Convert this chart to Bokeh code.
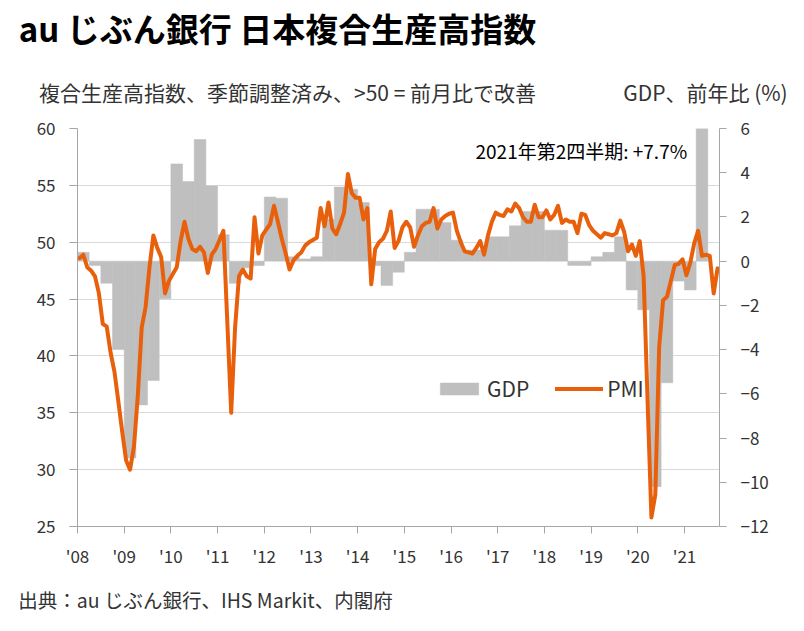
from bokeh.plotting import figure
from bokeh.models import Range1d, LinearAxis, FixedTicker, Label, Legend, LegendItem
from bokeh.embed import file_html
from bokeh.resources import INLINE

# ---- data ----
years = list(range(2008, 2022))
year_labels = ["'08", "'09", "'10", "'11", "'12", "'13", "'14", "'15", "'16", "'17", "'18", "'19", "'20", "'21"]
pmi_ticks = [25, 30, 35, 40, 45, 50, 55, 60]
gdp_ticks = [-12, -10, -8, -6, -4, -2, 0, 2, 4, 6]

pmi_2008 = [48.6, 48.9, 47.8, 47.5, 47.0, 45.5, 42.8, 42.6, 40.3, 38.6, 36.0, 33.3]
pmi_2009 = [30.8, 30.0, 32.0, 36.5, 42.5, 44.3, 47.8, 50.6, 49.5, 48.7, 45.5, 46.6]
pmi_2010 = [47.2, 47.8, 50.1, 51.8, 50.3, 49.4, 49.2, 49.6, 49.1, 47.3, 48.9, 49.4]
pmi_2011 = [50.2, 51.0, 43.0, 35.0, 42.5, 47.0, 47.6, 47.0, 46.8, 52.2, 49.0, 50.6]
pmi_2012 = [51.1, 51.6, 53.2, 51.8, 50.3, 49.0, 47.6, 48.4, 48.8, 49.1, 49.7, 50.0]
pmi_2013 = [50.2, 50.4, 53.0, 51.4, 53.5, 51.2, 50.7, 51.6, 52.6, 56.0, 54.3, 53.9]
pmi_2014 = [53.9, 52.0, 53.0, 46.3, 49.4, 50.0, 50.3, 51.0, 52.7, 49.5, 50.1, 51.3]
pmi_2015 = [51.8, 51.3, 49.6, 50.6, 51.4, 51.7, 51.8, 53.0, 51.2, 52.0, 52.3, 52.5]
pmi_2016 = [52.6, 51.0, 50.0, 49.2, 49.1, 49.0, 49.5, 50.1, 48.9, 50.6, 51.8, 52.6]
pmi_2017 = [52.4, 52.3, 52.9, 52.7, 53.4, 53.0, 52.2, 51.8, 51.8, 53.3, 52.2, 52.2]
pmi_2018 = [52.8, 52.0, 52.4, 53.2, 51.7, 52.0, 51.8, 51.8, 50.8, 52.5, 52.4, 51.5]
pmi_2019 = [51.0, 50.7, 50.4, 50.8, 50.7, 50.6, 50.8, 51.9, 50.9, 49.2, 49.8, 48.8]
pmi_2020 = [50.1, 47.0, 36.2, 25.8, 27.8, 40.8, 44.9, 45.2, 46.6, 48.0, 48.1, 48.5]
pmi_2021 = [47.1, 48.2, 49.9, 51.0, 48.8, 48.9, 48.8, 45.5, 47.7]

gdp = [
    0.4, -0.2, -1.0, -4.0,      # 2008
    -8.9, -6.5, -5.4, -1.7,     # 2009
    4.4, 3.6, 5.5, 3.4,         # 2010
    1.2, -1.0, -0.3, -0.2,      # 2011
    2.9, 2.85, 0.2, 0.1,        # 2012
    0.2, 1.9, 3.35, 3.25,       # 2013
    2.65, -0.2, -1.1, -0.5,     # 2014
    0.4, 2.35, 2.35, 1.75,      # 2015
    0.95, 0.5, 0.5, 1.1,        # 2016
    1.1, 1.6, 2.25, 2.25,       # 2017
    1.4, 1.4, -0.2, -0.2,       # 2018
    0.2, 0.4, 1.1, -1.3,        # 2019
    -2.2, -10.2, -5.5, -0.9,    # 2020
    -1.3, 7.7,                  # 2021
]

pmi = (pmi_2008 + pmi_2009 + pmi_2010 + pmi_2011 + pmi_2012 + pmi_2013 + pmi_2014
       + pmi_2015 + pmi_2016 + pmi_2017 + pmi_2018 + pmi_2019 + pmi_2020 + pmi_2021)
month_t = [2008 + (i + 0.5) / 12 for i in range(len(pmi))]
quarter_t = [2008 + (i + 0.5) / 4 for i in range(len(gdp))]

title_text = "au じぶん銀行 日本複合生産高指数"
subtitle_left = "複合生産高指数、季節調整済み、>50 = 前月比で改善"
subtitle_right = "GDP、前年比 (%)"
note_text = "2021年第2四半期: +7.7%"
source_text = "出典：au じぶん銀行、IHS Markit、内閣府"

FONT = "Noto Sans CJK JP"
GRAY = "#bfbfbf"
ORANGE = "#e9600c"
AX = "#a6a6a6"
TXT = "#333333"

X0, X1 = 2008, 2021.75
FRAME_W, FRAME_H, LEFT = 642, 398, 77


def px_to_x(px):
    # horizontal pixel position of a text centre -> x value on the time axis
    return round(X0 + (px - LEFT) / FRAME_W * (X1 - X0), 3)


p = figure(frame_width=FRAME_W, frame_height=FRAME_H, x_range=Range1d(X0, X1), y_range=Range1d(25, 60),
           output_backend="svg", toolbar_location=None,
           min_border_left=LEFT, min_border_right=77, min_border_top=0, min_border_bottom=0)
p.extra_y_ranges = {"gdp": Range1d(-12, 6)}
p.outline_line_color = None

bars = p.vbar(x=quarter_t, top=gdp, bottom=0, width=0.25, y_range_name="gdp",
              fill_color=GRAY, line_color=GRAY, line_width=0.5)
line = p.line(month_t, pmi, line_color=ORANGE, line_width=4, line_join="round", line_cap="round")

p.xgrid.visible = False
p.ygrid.ticker = FixedTicker(ticks=pmi_ticks)
p.ygrid.grid_line_color = "#d9d9d9"

p.xaxis.ticker = FixedTicker(ticks=years)
p.xaxis.major_label_overrides = {y: l for y, l in zip(years, year_labels)}
p.yaxis.ticker = FixedTicker(ticks=pmi_ticks)

right = LinearAxis(y_range_name="gdp", ticker=FixedTicker(ticks=gdp_ticks))
p.add_layout(right, "right")

for ax in [p.xaxis[0], p.yaxis[0], right]:
    ax.axis_line_color = AX
    ax.major_tick_line_color = AX
    ax.minor_tick_line_color = None
    ax.major_tick_in = 0
    ax.major_tick_out = 8
    ax.major_label_text_font = FONT
    ax.major_label_text_font_size = "17px"
    ax.major_label_text_color = TXT
p.yaxis[0].major_label_standoff = 14
right.major_tick_out = 7
right.major_label_standoff = 14
p.xaxis[0].major_tick_out = 7
p.xaxis[0].major_label_standoff = 9


def text_axis(texts_at, size, standoff, place, bold=False, color=TXT):
    ticks = [px_to_x(c) for c, _ in texts_at]
    ax = LinearAxis(ticker=FixedTicker(ticks=ticks),
                    major_label_overrides={t: s for t, (_, s) in zip(ticks, texts_at)})
    ax.axis_line_color = None
    ax.major_tick_line_color = None
    ax.minor_tick_line_color = None
    ax.major_tick_in = 0
    ax.major_tick_out = 0
    ax.major_label_standoff = standoff
    ax.major_label_text_font = FONT
    ax.major_label_text_font_size = size
    ax.major_label_text_color = color
    ax.major_label_text_font_style = "bold" if bold else "normal"
    p.add_layout(ax, place)


# header rows (first added sits nearest the plot)
text_axis([(287, subtitle_left), (705, subtitle_right)], "21px", 22, "above")
text_axis([(277, title_text)], "33px", 22, "above", bold=True, color="#000000")
# source line under the x axis
text_axis([(205, source_text)], "19.5px", 14, "below")

legend = Legend(items=[LegendItem(label="GDP", renderers=[bars]),
                       LegendItem(label="PMI", renderers=[line])],
                orientation="horizontal", location=(358, 123),
                glyph_width=48, glyph_height=15, label_standoff=4, spacing=26,
                padding=0, margin=0, border_line_color=None, background_fill_alpha=0,
                label_text_font=FONT, label_text_font_size="21px", label_text_color=TXT)
p.add_layout(legend)

p.add_layout(Label(x=398, y=376, x_units="screen", y_units="screen", text=note_text,
                   text_font=FONT, text_font_size="19px", text_baseline="middle",
                   text_color="#000000"))

open("out.html", "w").write(file_html(p, INLINE))
